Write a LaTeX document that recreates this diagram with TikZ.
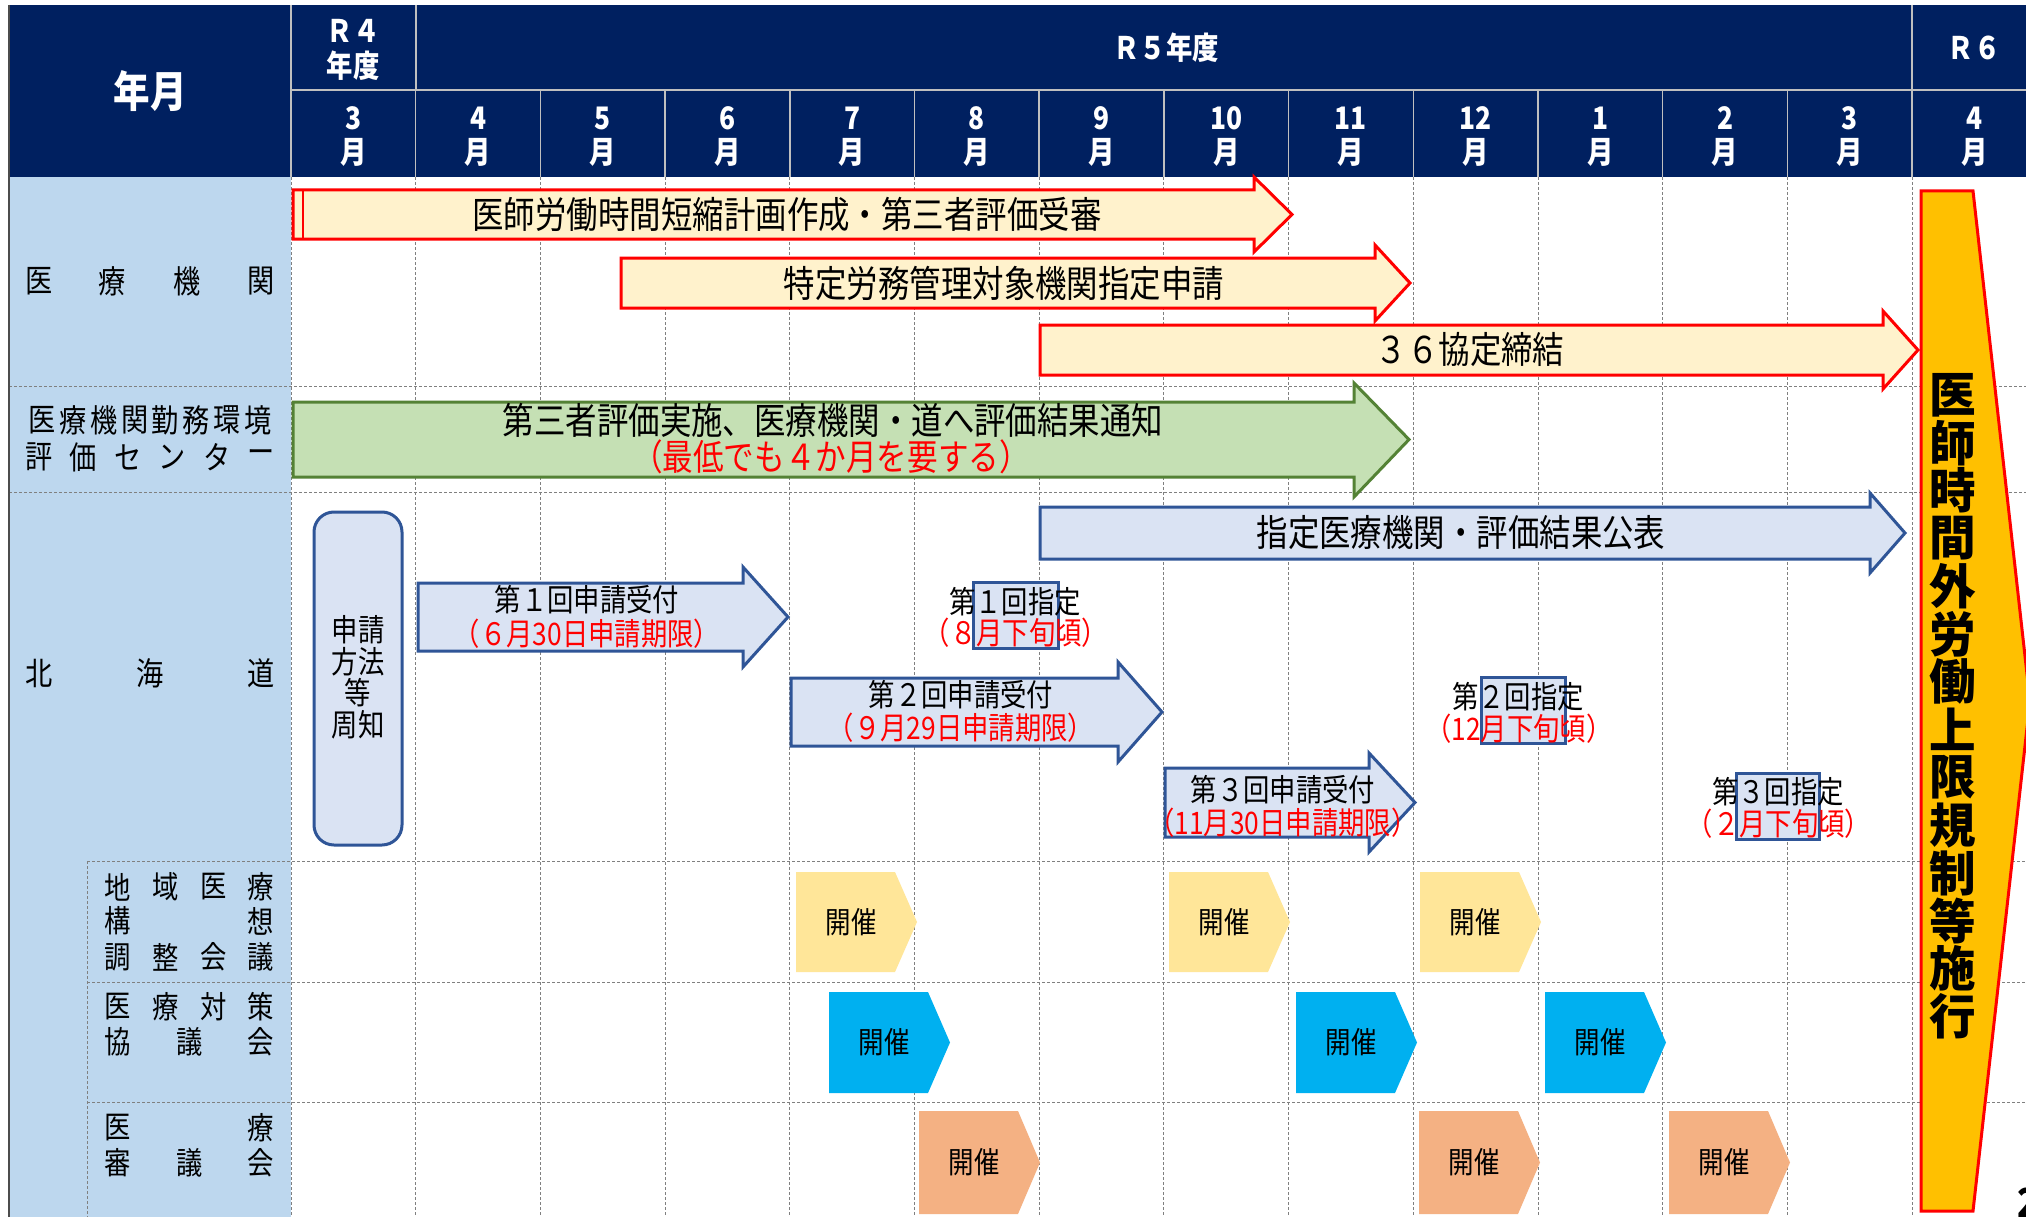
\documentclass[tikz,border=0pt]{standalone}
\usepackage{fontspec}
\newfontfamily\jp{Noto Sans CJK JP}[FakeStretch=0.85]
\newfontfamily\jpw{Noto Sans CJK JP}[FakeStretch=0.97]
\newcommand\fsz[1]{\fontsize{#1}{#1}\selectfont}
\definecolor{navy}{HTML}{002060}
\definecolor{lblue}{HTML}{BDD7EE}
\definecolor{cream}{HTML}{FFF2CC}
\definecolor{gfill}{HTML}{C5E0B4}
\definecolor{gline}{HTML}{548235}
\definecolor{bfill}{HTML}{DAE3F3}
\definecolor{bline}{HTML}{2F5597}
\definecolor{pyel}{HTML}{FFE699}
\definecolor{pcyan}{HTML}{00B0F0}
\definecolor{psal}{HTML}{F4B183}
\definecolor{porange}{HTML}{FFC000}
\definecolor{gridc}{HTML}{808080}
\definecolor{hlinec}{HTML}{BFBFBF}
\tikzset{
  hline/.style={draw=hlinec, line width=1.5},
  gridln/.style={draw=gridc, line width=1, dash pattern=on 3pt off 2pt},
  redarr/.style={draw=red, fill=cream, line width=3},
  grnarr/.style={draw=gline, fill=gfill, line width=3},
  bluarr/.style={draw=bline, fill=bfill, line width=3},
  hdr/.style={text=white, font=\jp\bfseries\fsz{31}, inner sep=0},
  lbl/.style={text=black, font=\jp\fsz{32}, inner sep=0},
  sublbl/.style={text=black, font=\jp\fsz{31}, inner sep=0},
  bigt/.style={text=black, font=\jp\fsz{37}, inner sep=0},
  bigr/.style={text=red, font=\jp\fsz{36}, inner sep=0},
  midt/.style={text=black, font=\jp\fsz{31}, inner sep=0},
  midr/.style={text=red, font=\jp\fsz{31}, inner sep=0},
  kt/.style={text=black, font=\jp\fsz{30}, inner sep=0},
  vt/.style={text=black, font=\jpw\bfseries\fsz{48}, inner sep=0},
}
\newcommand\barr[8]{%
  \draw[#1] (#2,#5) -- (#3,#5) -- (#3,#7) -- (#4,{(#5+#6)/2}) -- (#3,#8) -- (#3,#6) -- (#2,#6) -- cycle;}
\newcommand\penta[4]{%
  \fill[#1] (#2,#3) -- ({#2+99},#3) -- ({#2+121},{(#3+#4)/2}) -- ({#2+99},#4) -- (#2,#4) -- cycle;}
\begin{document}
\begin{tikzpicture}[x=1pt,y=-1pt]
\useasboundingbox (0,0) rectangle (2026,1217);
\clip (0,0) rectangle (2026,1217);
\fill[white] (0,0) rectangle (2026,1217);
% label column
\fill[lblue] (9,177) rectangle (291,1217);
% header
\fill[navy] (9,5) rectangle (2026,177);
\draw[hline] (291,5) -- (291,177);
\draw[hline] (416,5) -- (416,90);
\draw[hline] (1912,5) -- (1912,90);
\draw[hline] (291,90) -- (2026,90);
\foreach \i in {1,...,13} \draw[hline] ({291+124.7*\i},90) -- ({291+124.7*\i},177);
% grid
\foreach \i in {0,...,13} \draw[gridln] ({291+124.7*\i},177) -- ({291+124.7*\i},1217);
\draw[gridln] (9,386) -- (2026,386);
\draw[gridln] (9,492) -- (2026,492);
\draw[gridln] (87,861) -- (2026,861);
\draw[gridln] (87,982) -- (2026,982);
\draw[gridln] (87,1102) -- (2026,1102);
\draw[gridln] (87,861) -- (87,1217);
\draw[draw=black!70, line width=1.5] (9,5) -- (9,1217);

% header texts
\node[hdr, font=\jp\bfseries\fsz{43}] (ym) at (150,91) {年月};
\node[hdr] (r4a) at (353,31) {Ｒ４};
\node[hdr] (r4b) at (353,66) {年度};
\node[hdr] (r5) at (1166,48) {Ｒ５年度};
\node[hdr] (r6) at (1974,48) {Ｒ６};
\foreach \m [count=\i from 0] in {3,4,5,6,7,8,9,10,11,12,1,2,3,4} {
  \node[hdr] (mn\i) at ({291+124.7*(\i+0.5)},118) {\m};
  \node[hdr] (mm\i) at ({291+124.7*(\i+0.5)},152) {月};
}

% section labels
\foreach \x/\c [count=\i] in {39/医,112/療,187/機,261/関} \node[lbl] (la\i) at (\x,281) {\c};
\foreach \x/\c [count=\i] in {42/医,72.9/療,103.7/機,134.6/関,165.4/勤,196.3/務,227.1/環,258/境} \node[lbl] (lb\i) at (\x,420) {\c};
\foreach \x/\c [count=\i] in {39/評,83.4/価,127.8/セ,172.2/ン,216.6/タ,261/ー} \node[lbl] (lc\i) at (\x,457) {\c};
\foreach \x/\c [count=\i] in {39/北,150/海,261/道} \node[lbl] (ld\i) at (\x,673) {\c};
\foreach \x/\c [count=\i] in {118/地,166/域,214/医,261/療} \node[sublbl] (le\i) at (\x,887) {\c};
\foreach \x/\c [count=\i] in {118/構,261/想} \node[sublbl] (lf\i) at (\x,921) {\c};
\foreach \x/\c [count=\i] in {118/調,166/整,214/会,261/議} \node[sublbl] (lg\i) at (\x,957) {\c};
\foreach \x/\c [count=\i] in {118/医,166/療,214/対,261/策} \node[sublbl] (lh\i) at (\x,1007) {\c};
\foreach \x/\c [count=\i] in {118/協,189.5/議,261/会} \node[sublbl] (li\i) at (\x,1042) {\c};
\foreach \x/\c [count=\i] in {118/医,261/療} \node[sublbl] (lj\i) at (\x,1128) {\c};
\foreach \x/\c [count=\i] in {118/審,189.5/議,261/会} \node[sublbl] (lk\i) at (\x,1163) {\c};

% 医療機関 arrows
\barr{redarr}{293}{1254}{1292}{190}{239}{177}{252}
\draw[red, line width=2] (303,191) -- (303,238);
\node[bigt] (a1) at (787,214) {医師労働時間短縮計画作成・第三者評価受審};
\barr{redarr}{621}{1375}{1410}{258}{308}{245}{321}
\node[bigt] (a2) at (1004,283) {特定労務管理対象機関指定申請};
\barr{redarr}{1040}{1883}{1918}{325}{375}{311}{389}
\node[bigt] (a3) at (1470,350) {３６協定締結};
% green
\barr{grnarr}{293}{1354}{1409}{402}{477}{383}{497}
\node[bigt] (g1) at (833,420) {第三者評価実施、医療機関・道へ評価結果通知};
\node[bigr] (g2) at (831,457) {（最低でも４か月を要する）};
% blue big
\barr{bluarr}{1040}{1870}{1905}{507}{559}{493}{573}
\node[bigt] (b0) at (1461,533) {指定医療機関・評価結果公表};
% rounded rect
\draw[bluarr, rounded corners=20] (314,512) rectangle (402,845);
\foreach \y/\t [count=\i] in {630/申請,662/方法,693/等,725/周知} \node[midt] (sh\i) at (358,\y) {\t};
% application arrows
\barr{bluarr}{418}{743}{788}{583}{651}{567}{667}
\node[midt] (p1a) at (587,600) {第１回申請受付};
\node[midr] (p1b) at (587,634) {（６月30日申請期限）};
\barr{bluarr}{791}{1118}{1162}{678}{746}{662}{762}
\node[midt] (p2a) at (961,695) {第２回申請受付};
\node[midr] (p2b) at (961,728) {（９月29日申請期限）};
\barr{bluarr}{1165}{1369}{1415}{768}{837}{753}{852}
\node[midt] (p3a) at (1283,790) {第３回申請受付};
\node[midr] (p3b) at (1283,823) {（11月30日申請期限）};
% designation
\draw[bluarr] (973,582) rectangle (1058,648);
\node[midt] (d1a) at (1015,602) {第１回指定};
\node[midr] (d1b) at (1016,633) {（８月下旬頃）};
\draw[bluarr] (1481,677) rectangle (1565,743);
\node[midt] (d2a) at (1518,697) {第２回指定};
\node[midr] (d2b) at (1519,729) {（12月下旬頃）};
\draw[bluarr] (1736,773) rectangle (1819,839);
\node[midt] (d3a) at (1778,792) {第３回指定};
\node[midr] (d3b) at (1779,824) {（２月下旬頃）};
% pentagons
\penta{pyel}{796}{872}{972}
\penta{pyel}{1169}{872}{972}
\penta{pyel}{1420}{872}{972}
\node[kt] (k1) at (851,922) {開催};
\node[kt] (k2) at (1224,922) {開催};
\node[kt] (k3) at (1475,922) {開催};
\penta{pcyan}{829}{992}{1093}
\penta{pcyan}{1296}{992}{1093}
\penta{pcyan}{1545}{992}{1093}
\node[kt] (k4) at (884,1042) {開催};
\node[kt] (k5) at (1351,1042) {開催};
\node[kt] (k6) at (1600,1042) {開催};
\penta{psal}{919}{1111}{1214}
\penta{psal}{1419}{1111}{1214}
\penta{psal}{1669}{1111}{1214}
\node[kt] (k7) at (974,1162) {開催};
\node[kt] (k8) at (1474,1162) {開催};
\node[kt] (k9) at (1724,1162) {開催};
% big orange arrow
\draw[draw=red, fill=porange, line width=3] (1921,191) -- (1973,191) -- (2030,701) -- (1973,1211) -- (1921,1211) -- cycle;
\foreach \c [count=\i from 0] in {医,師,時,間,外,労,働,上,限,規,制,等,施,行}
  \node[vt] (v\i) at (1953,{395+47.8*\i}) {\c};
% page number (cut)
\node[text=black, font=\jp\bfseries\fsz{40}, inner sep=0, anchor=west] (pg) at (2017,1203) {2};
\end{tikzpicture}
\end{document}
